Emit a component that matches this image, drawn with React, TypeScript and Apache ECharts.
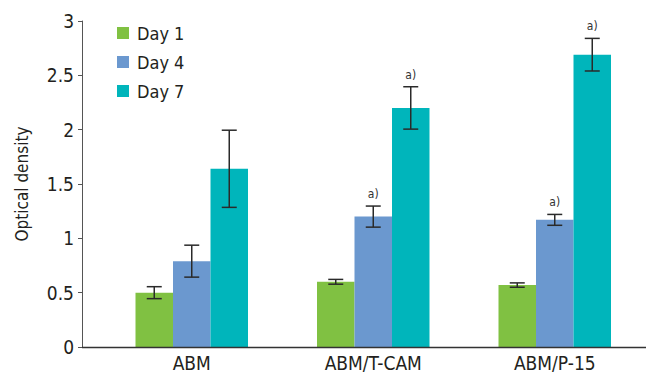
import React, { useEffect, useRef } from "react";
import * as echarts from "echarts";

const categories = ["ABM", "ABM/T-CAM", "ABM/P-15"];
const seriesNames = ["Day 1", "Day 4", "Day 7"];
const day1 = [0.5, 0.6, 0.57];
const day4 = [0.79, 1.2, 1.17];
const day7 = [1.64, 2.2, 2.69];
const day1Err = [0.055, 0.022, 0.02];
const day4Err = [0.147, 0.097, 0.05];
const day7Err = [0.355, 0.195, 0.15];
const day1Mark = ["", "", ""];
const day4Mark = ["", "a)", "a)"];
const day7Mark = ["", "a)", "a)"];
const yTicks = [0, 0.5, 1, 1.5, 2, 2.5, 3];

const colors = ["#80c142", "#6b98cf", "#00b5bb"];
const FONT = "'Liberation Sans Narrow', 'DejaVu Sans Condensed', Roboto, sans-serif";
const BAR_W = 37.5;

export default function App() {
  const ref = useRef<HTMLDivElement>(null);
  useEffect(() => {
    if (!ref.current) return;
    const chart = echarts.init(ref.current, null, { renderer: "svg" });
    const vals = [day1, day4, day7];
    const errs = [day1Err, day4Err, day7Err];
    const marks = [day1Mark, day4Mark, day7Mark];

    const barSeries = vals.map((v, i) => ({
      name: seriesNames[i],
      type: "bar",
      data: v,
      barWidth: BAR_W,
      barGap: "0%",
      itemStyle: { color: colors[i] },
      silent: true,
    }));

    const errSeries = vals.map((v, si) => ({
      name: seriesNames[si] + " err",
      type: "custom",
      data: v.map((val, ci) => [ci, val - errs[si][ci], val + errs[si][ci], marks[si][ci]]),
      encode: { x: 0, y: [1, 2] },
      z: 10,
      silent: true,
      renderItem: (params: any, api: any) => {
        const ci = api.value(0);
        const lo = api.coord([ci, api.value(1)]);
        const hi = api.coord([ci, api.value(2)]);
        const dx = (si - 1) * BAR_W;
        const x = lo[0] + dx;
        const cap = 7.5;
        const st = { stroke: "#2a2a2a", lineWidth: 1.5 };
        const children: any[] = [
          { type: "line", shape: { x1: x, y1: lo[1], x2: x, y2: hi[1] }, style: st },
          { type: "line", shape: { x1: x - cap, y1: lo[1], x2: x + cap, y2: lo[1] }, style: st },
          { type: "line", shape: { x1: x - cap, y1: hi[1], x2: x + cap, y2: hi[1] }, style: st },
        ];
        const m = marks[si][ci];
        if (m) {
          children.push({
            type: "text",
            style: {
              text: m,
              x: x,
              y: hi[1] - 6,
              align: "center",
              verticalAlign: "bottom",
              fontSize: 12,
              fontFamily: FONT,
              fill: "#333",
            },
          });
        }
        return { type: "group", children };
      },
    }));

    chart.setOption({
      animation: false,
      textStyle: { fontFamily: FONT },
      grid: { left: 101, right: 0.5, top: 21, bottom: 27, containLabel: false },
      legend: {
        data: seriesNames,
        orient: "vertical",
        left: 117,
        top: 24,
        padding: 0,
        itemWidth: 12,
        itemHeight: 12,
        itemGap: 11,
        icon: "rect",
        textStyle: { fontSize: 18, color: "#231f20", fontFamily: FONT, padding: [0, 0, 0, 3] },
      },
      xAxis: {
        type: "category",
        data: categories,
        axisLine: { show: false },
        axisTick: { show: false },
        axisLabel: { fontSize: 19, color: "#231f20", margin: 6, fontFamily: FONT },
      },
      yAxis: {
        type: "value",
        min: yTicks[0],
        max: yTicks[yTicks.length - 1],
        interval: 0.5,
        offset: 19,
        name: "Optical density",
        nameLocation: "middle",
        nameGap: 52,
        nameTextStyle: { fontSize: 17, color: "#231f20", fontFamily: FONT },
        splitLine: { show: false },
        axisLine: { show: true, lineStyle: { color: "#555", width: 1 } },
        axisTick: { show: true, length: 4, lineStyle: { color: "#555" } },
        axisLabel: { fontSize: 19, color: "#231f20", margin: 8, fontFamily: FONT },
      },
      graphic: [
        {
          type: "line",
          shape: { x1: 82, y1: 347.5, x2: 646, y2: 347.5 },
          style: { stroke: "#333", lineWidth: 1.5 },
          z: 100,
        },
      ],
      series: [...barSeries, ...errSeries],
    });
    return () => chart.dispose();
  }, []);
  return (
    <div
      ref={ref}
      style={{ width: 646, height: 374, position: "fixed", left: 0, top: 0, background: "#fff" }}
    />
  );
}
